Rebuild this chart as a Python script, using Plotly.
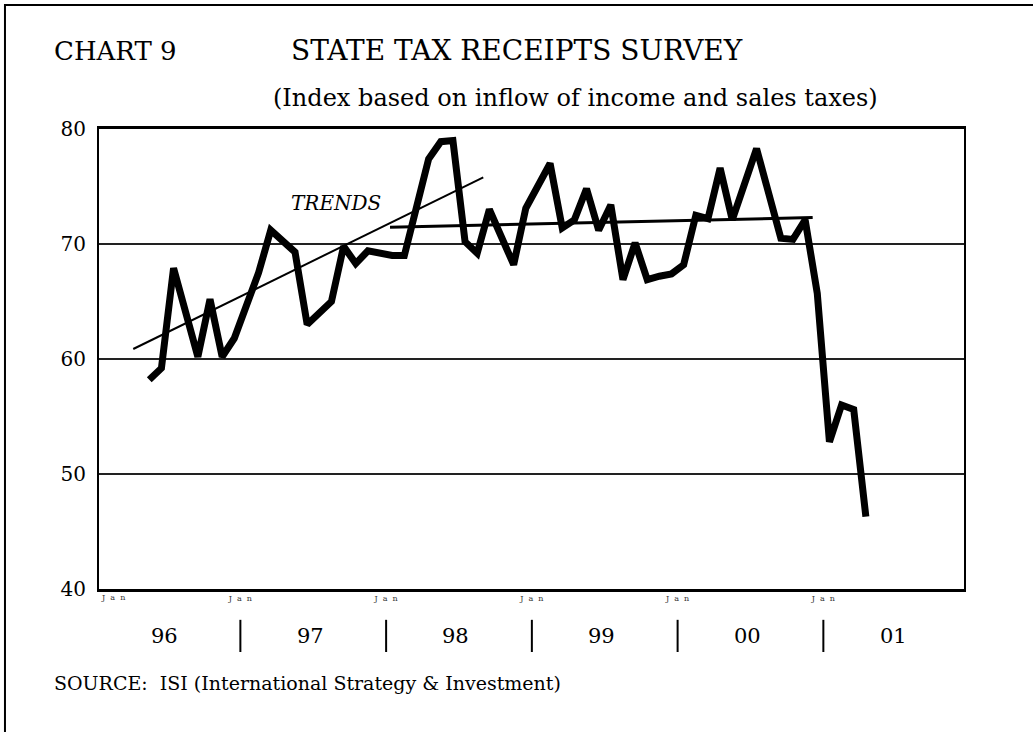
import plotly.graph_objects as go

# Monthly index, months counted from Jan 1996 (0 = Jan 96)
months = list(range(4, 64))
index_values = [
    58.2, 59.2, 67.9, 63.8, 60.2, 65.2, 60.2, 61.8,            # May-Dec 96
    64.8, 67.5, 71.2, 70.2, 69.3, 63.0, 64.0, 65.0, 69.8, 68.3, 69.4, 69.2,  # 97
    69.0, 69.0, 73.2, 77.4, 78.9, 79.0, 70.2, 69.2, 73.0, 70.5, 68.2, 73.1,  # 98
    75.1, 77.0, 71.4, 72.1, 74.8, 71.2, 73.4, 66.9, 70.1, 66.9, 67.2, 67.4,  # 99
    68.2, 72.5, 72.2, 76.6, 72.1, 75.0, 78.3, 74.4, 70.5, 70.4, 72.1, 65.7,  # 00
    52.8, 56.0, 55.6, 46.3,                                      # Jan-Apr 01
]

# Hand-drawn trend lines: (month position, index value) at each end
trend_early_x = [3.18, 32.0]
trend_early_y = [60.87, 75.8]
trend_late_x = [24.32, 59.12]
trend_late_y = [71.45, 72.3]

year_labels = ["96", "97", "98", "99", "00", "01"]
y_ticks = [40, 50, 60, 70, 80]
JAN = "J\u00a0\u00a0a\u00a0\u00a0n"

X_RANGE = [0.36, 71.58]
SERIF = "DejaVu Serif"

# points sit in the middle of their month
x_pts = [m + 0.5 for m in months]

fig = go.Figure()
fig.add_trace(go.Scatter(
    x=trend_early_x, y=trend_early_y, mode="lines",
    line=dict(color="black", width=2), hoverinfo="skip"))
fig.add_trace(go.Scatter(
    x=trend_late_x, y=trend_late_y, mode="lines",
    line=dict(color="black", width=3), hoverinfo="skip"))
fig.add_trace(go.Scatter(
    x=x_pts, y=index_values, mode="lines",
    line=dict(color="black", width=7), name="Index"))


def xpaper(v):
    return (v - X_RANGE[0]) / (X_RANGE[1] - X_RANGE[0])


shapes = []
# separators between the year labels
for k in range(1, len(year_labels)):
    xp = xpaper(12 * k)
    shapes.append(dict(type="line", xref="paper", yref="paper",
                       x0=xp, x1=xp, y0=-0.067, y1=-0.137,
                       line=dict(color="black", width=2)))
# page border
shapes.append(dict(type="rect", xref="paper", yref="paper",
                   x0=-0.1087, x1=1.09, y0=1.2696, y1=-0.33,
                   line=dict(color="black", width=2), fillcolor="rgba(0,0,0,0)"))

annotations = [
    dict(text="CHART 9", xref="paper", yref="paper", x=-0.0543, y=1.1696,
         xanchor="left", yanchor="middle", showarrow=False,
         font=dict(family=SERIF, size=26, color="black")),
    dict(text="STATE TAX RECEIPTS SURVEY", xref="paper", yref="paper",
         x=0.4832, y=1.1696, xanchor="center", yanchor="middle", showarrow=False,
         font=dict(family=SERIF, size=28, color="black")),
    dict(text="(Index based on inflow of income and sales taxes)", xref="paper",
         yref="paper", x=0.5503, y=1.0674, xanchor="center", yanchor="middle",
         showarrow=False, font=dict(family=SERIF, size=24, color="black")),
    dict(text="SOURCE:  ISI (International Strategy &amp; Investment)",
         xref="paper", yref="paper", x=-0.0543, y=-0.2043,
         xanchor="left", yanchor="middle", showarrow=False,
         font=dict(family=SERIF, size=19, color="black")),
    dict(text="<i>TRENDS</i>", xref="x", yref="y", x=19.87, y=73.57,
         xanchor="center", yanchor="middle", showarrow=False,
         font=dict(family=SERIF, size=20, color="black")),
    # first January label sits against the left edge
    dict(text=JAN, xref="paper", yref="paper", x=0.0, y=-0.004,
         xanchor="left", yanchor="top", showarrow=False,
         font=dict(family=SERIF, size=8, color="#333")),
]
for k, lab in enumerate(year_labels):
    annotations.append(dict(
        text=lab, xref="x", yref="paper", x=12 * k + 6, y=-0.102,
        xshift=-3, xanchor="center", yanchor="middle", showarrow=False,
        font=dict(family=SERIF, size=21, color="black")))

fig.update_layout(
    width=1033, height=732,
    margin=dict(l=99, r=69, t=129, b=143, pad=0),
    paper_bgcolor="white", plot_bgcolor="white",
    showlegend=False,
    shapes=shapes,
    annotations=annotations,
    xaxis=dict(
        range=X_RANGE, showgrid=False, zeroline=False,
        tickmode="array", tickvals=[12 * k for k in range(1, 6)],
        ticktext=[JAN] * 5, ticks="",
        tickfont=dict(family=SERIF, size=8, color="#333"),
        showline=True, linecolor="black", linewidth=2.5, mirror=True,
    ),
    yaxis=dict(
        range=[40, 80], tickvals=y_ticks, ticks="",
        tickfont=dict(family=SERIF, size=20, color="black"),
        ticklabelstandoff=7,
        showgrid=True, gridcolor="#222", gridwidth=1.5, zeroline=False,
        showline=True, linecolor="black", linewidth=2, mirror=True,
    ),
)

fig.write_html("out.html")
